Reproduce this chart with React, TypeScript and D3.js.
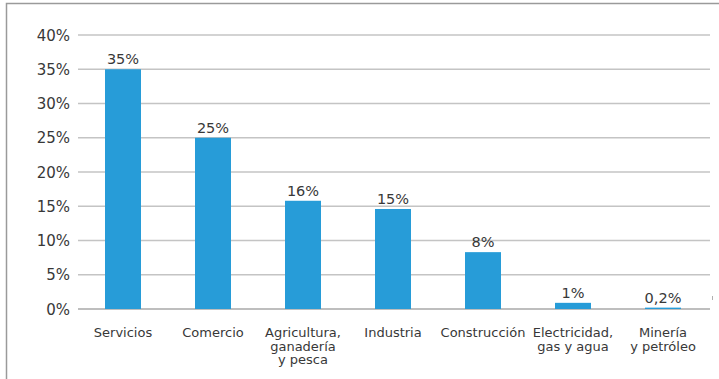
import { useEffect, useRef } from "react";
import * as d3 from "d3";

const W = 719;
const H = 379;

// categories (multi-line labels) and their shares
const categories = [
  ["Servicios"],
  ["Comercio"],
  ["Agricultura,", "ganadería", "y pesca"],
  ["Industria"],
  ["Construcción"],
  ["Electricidad,", "gas y agua"],
  ["Minería", "y petróleo"],
];
const values = [35, 25, 15.8, 14.6, 8.3, 0.9, 0.2];
const valueLabels = ["35%", "25%", "16%", "15%", "8%", "1%", "0,2%"];
const yTicks = [0, 5, 10, 15, 20, 25, 30, 35, 40];

const BAR = "#279cd8";
const TEXT = "#383838";
const FONT = "'DejaVu Sans', sans-serif";

export default function App() {
  const ref = useRef<SVGSVGElement | null>(null);

  useEffect(() => {
    const svg = d3.select(ref.current);
    svg.selectAll("*").remove();

    const x = d3
      .scaleBand<number>()
      .domain(d3.range(categories.length))
      .range([78, 708])
      .paddingInner(0.6)
      .paddingOuter(0.3);
    const y = d3.scaleLinear().domain([0, 40]).range([309, 35]);

    // outer frame (only left and top edges visible)
    svg
      .append("path")
      .attr("d", `M6.5,${H} V3.5 H${W}`)
      .attr("fill", "none")
      .attr("stroke", "#9a9a9a")
      .attr("stroke-width", 1.5);

    // gridlines
    svg
      .append("g")
      .selectAll("line")
      .data(yTicks)
      .join("line")
      .attr("x1", 78)
      .attr("x2", 710)
      .attr("y1", (d) => y(d))
      .attr("y2", (d) => y(d))
      .attr("stroke", (d) => (d === 0 ? "#a8a8a8" : "#c4c4c4"))
      .attr("stroke-width", 1.5);

    // y tick labels
    svg
      .append("g")
      .selectAll("text")
      .data(yTicks)
      .join("text")
      .attr("x", 70)
      .attr("y", (d) => y(d) + 5.5)
      .attr("text-anchor", "end")
      .attr("fill", TEXT)
      .attr("font-family", FONT)
      .attr("font-size", 15)
      .text((d) => `${d}%`);

    // bars
    svg
      .append("g")
      .selectAll("rect")
      .data(values)
      .join("rect")
      .attr("x", (_, i) => x(i)!)
      .attr("width", x.bandwidth())
      .attr("y", (d) => y(d))
      .attr("height", (d) => y(0) - y(d))
      .attr("fill", BAR);

    // value labels
    svg
      .append("g")
      .selectAll("text")
      .data(values)
      .join("text")
      .attr("x", (_, i) => x(i)! + x.bandwidth() / 2)
      .attr("y", (d) => y(d) - 5)
      .attr("text-anchor", "middle")
      .attr("fill", TEXT)
      .attr("font-family", FONT)
      .attr("font-size", 14.5)
      .text((_, i) => valueLabels[i]);

    // category labels
    const cat = svg
      .append("g")
      .selectAll("text")
      .data(categories)
      .join("text")
      .attr("x", (_, i) => x(i)! + x.bandwidth() / 2)
      .attr("y", 337)
      .attr("text-anchor", "middle")
      .attr("fill", TEXT)
      .attr("font-family", FONT)
      .attr("font-size", 13);
    cat
      .selectAll("tspan")
      .data((d) => d)
      .join("tspan")
      .attr("x", function () {
        return (this.parentNode as SVGTextElement).getAttribute("x");
      })
      .attr("dy", (_, j) => (j === 0 ? 0 : 13.7))
      .text((d) => d);

    // small stray mark at the right edge
    svg
      .append("line")
      .attr("x1", 712.5)
      .attr("x2", 712.5)
      .attr("y1", 296)
      .attr("y2", 300)
      .attr("stroke", "#b0b0b0")
      .attr("stroke-width", 1);
  }, []);

  return (
    <svg
      ref={ref}
      width={W}
      height={H}
      style={{ position: "absolute", left: 0, top: 0, background: "#fff" }}
    />
  );
}
